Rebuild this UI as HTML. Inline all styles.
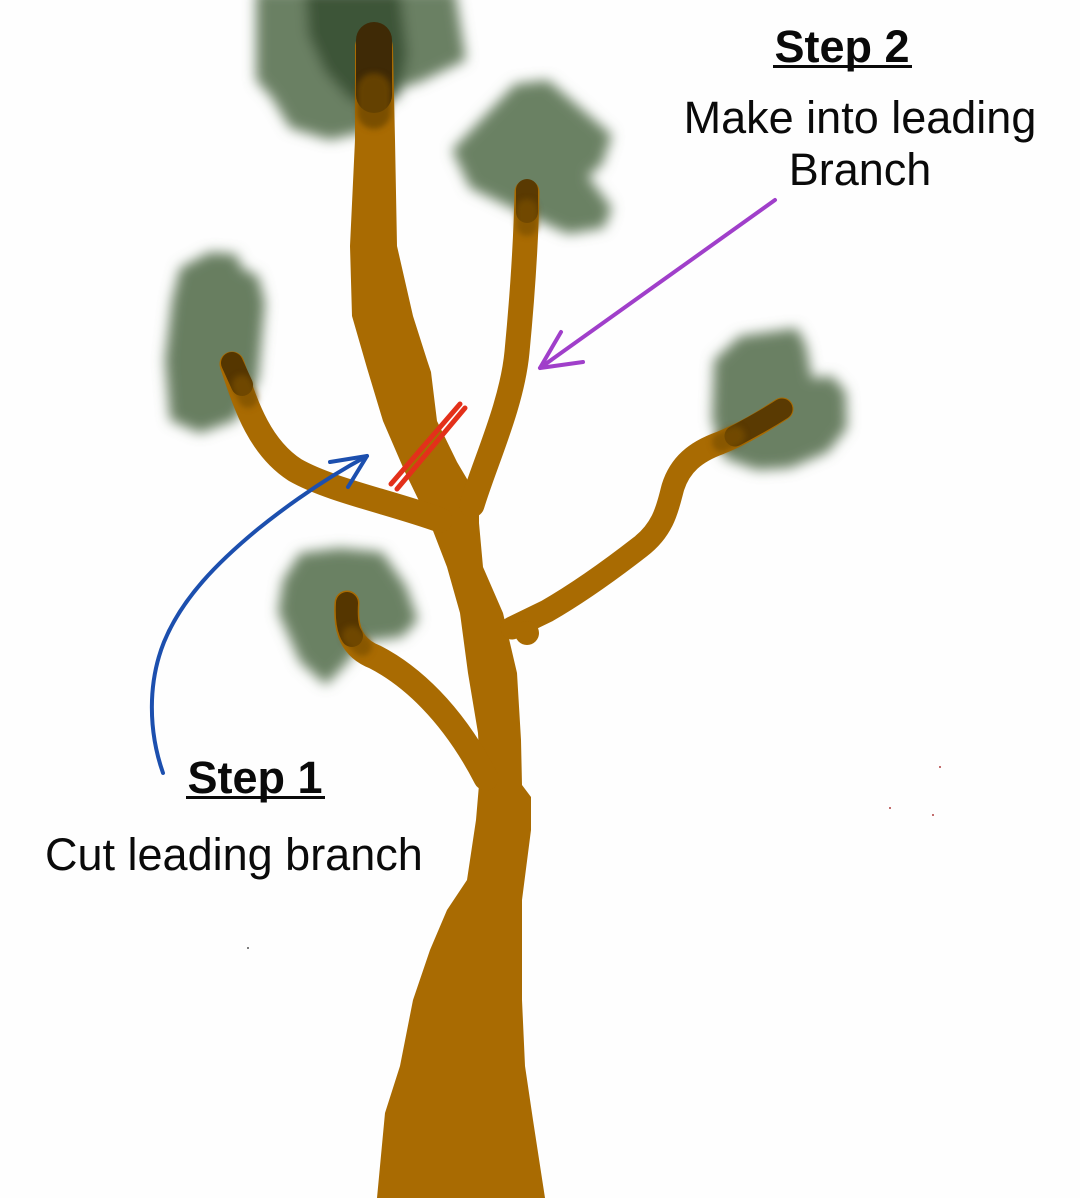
<!DOCTYPE html>
<html>
<head>
<meta charset="utf-8">
<style>
html,body{margin:0;padding:0;background:#fefefe;}
svg{display:block;}
text{font-family:"Liberation Sans",Arial,sans-serif;fill:#0a0a0a;}
</style>
</head>
<body>
<svg width="1080" height="1198" viewBox="0 0 1080 1198" xmlns="http://www.w3.org/2000/svg">
<defs>
<filter id="blur" x="-30%" y="-30%" width="160%" height="160%"><feGaussianBlur stdDeviation="6.5"/></filter>
<filter id="soft" x="-30%" y="-30%" width="160%" height="160%"><feGaussianBlur stdDeviation="3"/></filter>
</defs>
<rect width="1080" height="1198" fill="#fefefe"/>

<!-- leaves -->
<g filter="url(#blur)">
  <!-- top leaf -->
  <polygon points="256,-10 455,-10 466,60 420,82 395,90 372,130 330,140 290,128 272,98 256,80" fill="#6a8063"/>
  <polygon points="305,-10 400,-10 408,55 398,98 352,102 325,72 308,35" fill="#3e5437"/>
  <!-- upper right leaf -->
  <polygon points="452,150 515,84 548,80 612,135 602,165 588,176 612,208 604,228 568,234 520,212 470,188" fill="#6b8164"/>
  <!-- upper left leaf -->
  <polygon points="180,268 210,252 236,254 242,268 258,276 265,302 258,380 236,420 200,433 170,420 165,360 172,300" fill="#687e61"/>
  <!-- right leaf -->
  <polygon points="714,360 740,336 797,328 806,345 812,378 832,376 846,392 847,428 828,452 790,468 757,470 724,458 712,420" fill="#6a8063"/>
  <!-- lower left leaf -->
  <polygon points="300,553 340,548 382,552 406,586 418,620 402,637 362,642 346,664 326,685 300,662 278,612 283,580" fill="#6b8164"/>
</g>

<!-- trunk -->
<g fill="#a96b02" stroke="none">
  <path d="M355,45 Q358,28 374,28 Q392,28 393,48 L395,140 L397,246 L413,316 L427,360 L431,372 L437,421 L457,462 L470,484 L479,492 L479,523 L483,567 L503,613 L517,673 L521,740 L522,785 L531,797 L531,830 L522,900 L522,1000 L525,1066 L533,1120 L545,1198 L377,1198 L385,1113 L400,1066 L413,1000 L430,950 L447,910 L467,880 L476,820 L480,773 L478,733 L468,673 L460,613 L447,567 L430,523 L421,505 L405,472 L383,421 L367,368 L352,316 L350,246 L355,140 Z"/>
</g>
<g fill="none" stroke="#a96b02" stroke-linecap="round" stroke-linejoin="round">
  <!-- new leader -->
  <path d="M472,505 C485,462 512,405 517,352 C522,300 526,240 527,192" stroke-width="25"/>
  <!-- upper left branch -->
  <path d="M232,364 C245,402 258,446 295,470 C330,490 390,502 440,520" stroke-width="25"/>
  <!-- lower left branch -->
  <path d="M347,603 C345,630 352,648 375,657 C410,675 452,712 486,778" stroke-width="25"/>
  <!-- right branch -->
  <path d="M512,628 L547,611 C580,592 613,568 640,547 C665,528 668,505 673,487 C680,465 695,452 720,443 C745,433 765,420 782,409" stroke-width="23"/>
</g>
<circle cx="527" cy="633" r="12" fill="#a96b02"/>

<!-- dark tips -->
<g fill="none" stroke-linecap="round" stroke="#573700">
  <path d="M374,40 L374,95" stroke-width="36" stroke="#3f2a06"/>
  <path d="M527,190 L527,212" stroke-width="22" stroke="#5a3a02"/>
  <path d="M232,363 L242,385" stroke-width="22" stroke="#553600"/>
  <path d="M347,603 C346,620 348,630 352,636" stroke-width="22" stroke="#553600"/>
  <path d="M782,409 C765,420 750,428 735,436" stroke-width="21" stroke="#5a3a02"/>
</g>
<g filter="url(#soft)" fill="none" stroke-linecap="round">
  <path d="M374,90 L374,112" stroke-width="34" stroke="#6e4808" opacity="0.8"/>
  <path d="M527,210 L527,225" stroke-width="22" stroke="#7a5006" opacity="0.7"/>
  <path d="M242,385 L248,398" stroke-width="20" stroke="#7a5006" opacity="0.7"/>
  <path d="M352,636 L362,646" stroke-width="20" stroke="#7a5006" opacity="0.7"/>
  <path d="M735,436 L722,442" stroke-width="20" stroke="#7a5006" opacity="0.7"/>
</g>

<!-- red cut -->
<g stroke="#e3301a" stroke-width="5" stroke-linecap="round" fill="none">
  <path d="M391,484 L460,404"/>
  <path d="M397,489 L465,408"/>
</g>

<!-- blue arrow -->
<g stroke="#1c4fae" stroke-width="4" fill="none" stroke-linecap="round" stroke-linejoin="round">
  <path d="M163,773 C148,730 148,682 164,642 C182,598 218,562 258,529 C294,500 330,476 367,456"/>
  <path d="M330,462 L367,456 L348,487"/>
</g>

<!-- purple arrow -->
<g stroke="#a03fca" stroke-width="4" fill="none" stroke-linecap="round" stroke-linejoin="round">
  <path d="M775,200 L540,368"/>
  <path d="M561,332 L540,368 L583,362"/>
</g>

<!-- specks -->
<g fill="#b04040">
  <circle cx="940" cy="767" r="1"/>
  <circle cx="890" cy="808" r="1"/>
  <circle cx="933" cy="815" r="1"/>
  <circle cx="248" cy="948" r="1" fill="#555"/>
</g>

<!-- text -->
<text x="842" y="62" font-size="45" font-weight="bold" text-anchor="middle">Step 2</text>
<rect x="773" y="65" width="139" height="3" fill="#0a0a0a"/>
<text x="860" y="133" font-size="45" text-anchor="middle">Make into leading</text>
<text x="860" y="185" font-size="45" text-anchor="middle">Branch</text>

<text x="255" y="793" font-size="45" font-weight="bold" text-anchor="middle">Step 1</text>
<rect x="186" y="796" width="139" height="3" fill="#0a0a0a"/>
<text x="45" y="870" font-size="45">Cut leading branch</text>
</svg>
</body>
</html>
